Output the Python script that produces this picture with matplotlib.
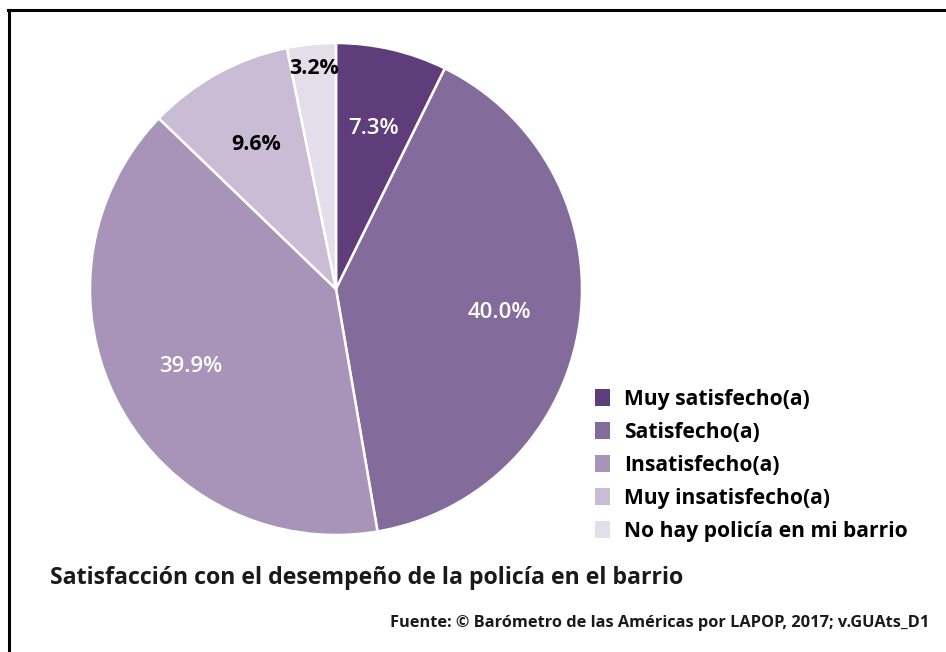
import matplotlib.pyplot as plt
from matplotlib.lines import Line2D
from matplotlib.patches import Patch

plt.rcParams['font.family'] = ['Open Sans', 'DejaVu Sans']

categories = ['Muy satisfecho(a)', 'Satisfecho(a)', 'Insatisfecho(a)',
              'Muy insatisfecho(a)', 'No hay policía en mi barrio']
values = [7.3, 40.0, 39.9, 9.6, 3.2]
colors = ['#5f3d7a', '#836b9b', '#a794b8', '#c9bcd4', '#e3dee9']
label_colors = ['white', 'white', 'white', 'black', 'black']

title = 'Satisfacción con el desempeño de la policía en el barrio'
source = 'Fuente: © Barómetro de las Américas por LAPOP, 2017; v.GUAts_D1'

W, H = 946, 652
fig = plt.figure(figsize=(W / 100, H / 100), dpi=100)

# frame: only top and left edges are visible
fig.add_artist(Line2D([8.5 / W, 8.5 / W], [0, 1 - 9.5 / H], color='black', lw=2.2,
                      transform=fig.transFigure))
fig.add_artist(Line2D([7.5 / W, 1], [1 - 9.5 / H, 1 - 9.5 / H], color='black', lw=2.2,
                      transform=fig.transFigure))

cx, cy, r = 336, 289, 246
ax = fig.add_axes([(cx - r) / W, (H - cy - r) / H, 2 * r / W, 2 * r / H])
wedges, texts, autotexts = ax.pie(
    values, colors=colors, startangle=90, counterclock=False,
    autopct=lambda p: f'{p:.1f}%', pctdistance=0.67,
    wedgeprops=dict(edgecolor='white', linewidth=1.8))
ax.set_xlim(-1, 1)
ax.set_ylim(-1, 1)
ax.set_aspect('equal')

for t, c in zip(autotexts, label_colors):
    t.set_color(c)
    t.set_fontweight('bold' if c == 'black' else 600)
    t.set_fontsize(15.4 if c == 'black' else 16)
# smallest slice label sits near the rim
x, y = autotexts[4].get_position()
autotexts[4].set_position((x * 0.9 / 0.67, y * 0.9 / 0.67))

handles = [Patch(facecolor=c, edgecolor='none') for c in colors]
fig.legend(handles, categories, loc='upper left', bbox_to_anchor=(595 / W, 1 - 389 / H),
           frameon=False, prop={'size': 15.1, 'weight': 'bold'},
           handlelength=0.72, handleheight=0.88, handletextpad=0.66, labelspacing=0.57,
           borderpad=0, borderaxespad=0)

fig.text(50 / W, 1 - 578 / H, title, fontsize=16.7, fontweight='bold',
         color='#1a1a1a', va='center', ha='left')
fig.text(929 / W, 1 - 623 / H, source, fontsize=11.8, fontweight='bold',
         color='#1a1a1a', va='center', ha='right')

fig.savefig('out.png', dpi=100)
